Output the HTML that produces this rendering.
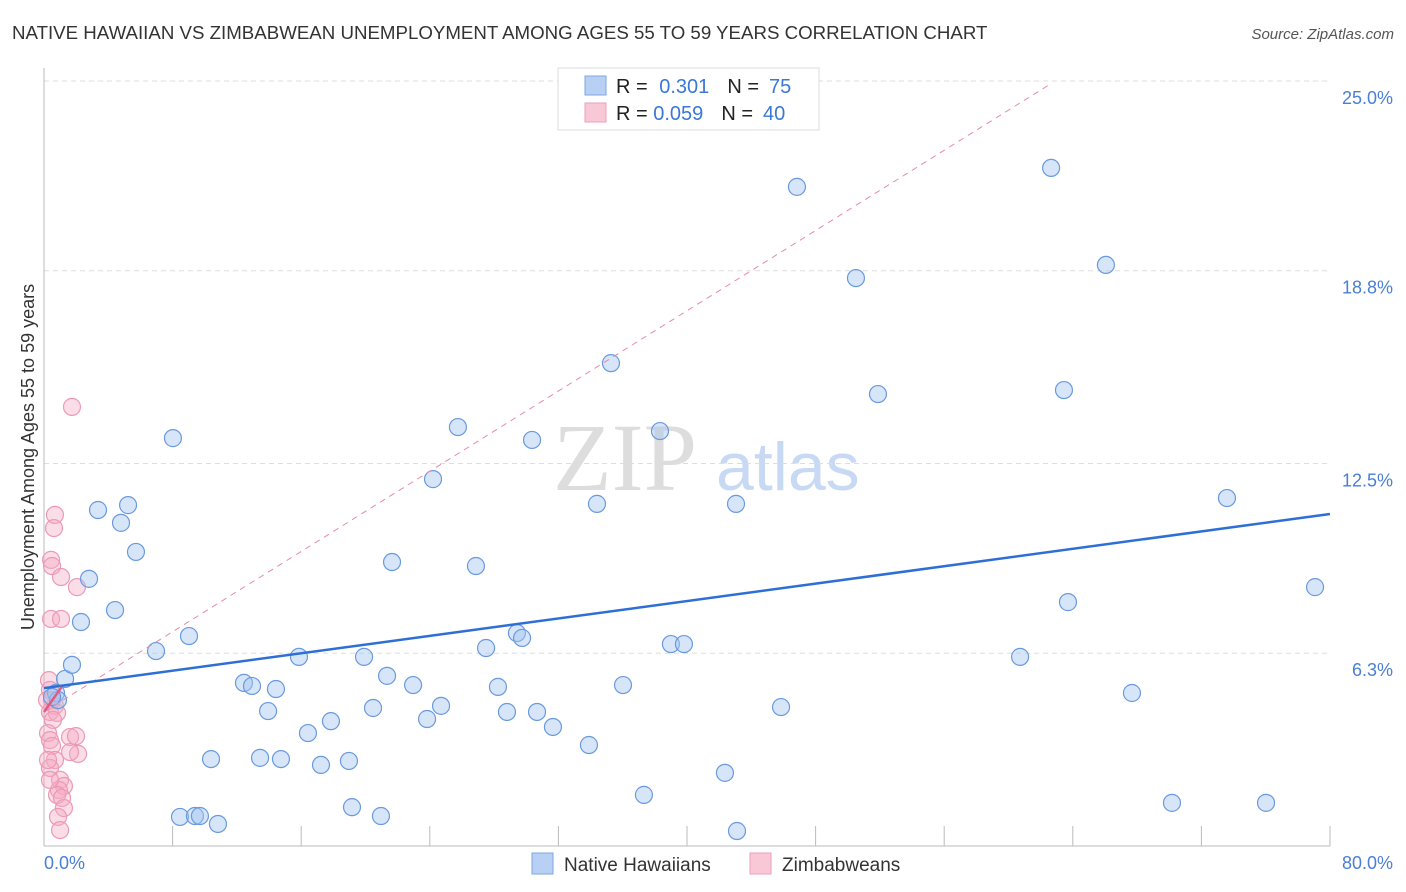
<!DOCTYPE html>
<html><head><meta charset="utf-8"><style>
body{margin:0;background:#fff;font-family:"Liberation Sans",sans-serif;}
svg{display:block}
</style></head><body>
<svg id="c" width="1406" height="892" xmlns="http://www.w3.org/2000/svg">
<text x="12" y="39" font-size="18.7" fill="#333">NATIVE HAWAIIAN VS ZIMBABWEAN UNEMPLOYMENT AMONG AGES 55 TO 59 YEARS CORRELATION CHART</text>
<text x="1394" y="39" font-size="15" fill="#555" font-style="italic" text-anchor="end">Source: ZipAtlas.com</text>
<g>
<text x="553" y="490" font-size="96" fill="#ddd" font-family="Liberation Serif,serif">ZIP</text>
<text x="716" y="490" font-size="68" fill="#c8daf3">atlas</text>
</g>
<g id="grid"></g>
<g id="axes"></g>
<g id="pts"></g>
<g id="trend"></g>
<text transform="translate(34,457) rotate(-90)" font-size="18" fill="#333" text-anchor="middle">Unemployment Among Ages 55 to 59 years</text>
<text x="44" y="869" font-size="18" fill="#4a7fd4">0.0%</text>
<text x="1393" y="869" font-size="18" fill="#4a7fd4" text-anchor="end">80.0%</text>
<g>
<rect x="558" y="68" width="261" height="62" fill="#fff" stroke="#ddd"/>
<rect x="585" y="76" width="21" height="19" fill="#b8d0f4" stroke="#7ea7e0"/>
<rect x="585" y="103" width="21" height="19" fill="#f9c8d6" stroke="#eba0b8"/>
<text x="616" y="93" font-size="20" fill="#222">R = <tspan fill="#3a78d6" dx="6">0.301</tspan><tspan dx="18" fill="#222">N =</tspan><tspan dx="10" fill="#3a78d6">75</tspan></text>
<text x="616" y="120" font-size="20" fill="#222">R = <tspan fill="#3a78d6">0.059</tspan><tspan dx="18" fill="#222">N =</tspan><tspan dx="10" fill="#3a78d6">40</tspan></text>
</g>
<g>
<rect x="532" y="853" width="21" height="21" fill="#b8d0f4" stroke="#7ea7e0"/>
<text x="564" y="871" font-size="19" fill="#333">Native Hawaiians</text>
<rect x="750" y="853" width="21" height="21" fill="#f9c8d6" stroke="#eba0b8"/>
<text x="782" y="871" font-size="19" fill="#333">Zimbabweans</text>
</g>
</svg>
<script>
const blueX=[0.75,0.87,0.50,1.31,1.74,2.30,2.80,3.36,4.79,5.23,5.72,4.42,6.97,8.02,8.46,9.39,9.70,9.02,10.39,10.82,12.44,12.94,13.44,13.94,14.43,14.74,15.86,16.42,17.23,17.85,18.97,19.16,19.91,20.47,20.96,21.34,21.65,22.96,23.83,24.20,24.70,25.75,26.87,27.50,28.24,28.80,29.42,29.74,30.36,30.67,31.66,33.90,34.40,35.27,36.02,37.32,38.32,39.00,39.81,42.36,43.05,43.11,45.85,46.84,50.51,51.88,60.72,62.65,63.45,63.70,66.06,67.68,70.17,73.59,76.02,79.07];
const blueY=[5.0,4.77,4.87,5.46,5.92,7.32,8.73,10.98,10.56,11.14,9.61,7.71,6.37,13.33,0.95,0.98,0.98,6.86,2.84,0.72,5.33,5.23,2.88,4.41,5.13,2.84,6.18,3.69,2.65,4.08,2.78,1.27,6.18,4.51,0.98,5.56,9.28,5.26,4.15,11.99,4.58,13.69,9.15,6.47,5.20,4.38,6.96,6.80,13.27,4.38,3.89,3.30,11.18,15.78,5.26,1.67,13.56,6.60,6.60,2.39,11.18,0.49,4.54,21.54,18.56,14.77,6.18,22.16,14.90,7.97,18.99,5.00,1.41,11.37,1.41,8.46];
const pinkX=[1.74,0.68,0.62,0.44,0.50,1.06,2.05,0.44,1.06,0.31,0.37,0.50,0.68,0.37,0.81,0.56,0.25,0.37,0.50,1.62,1.99,2.12,1.62,0.68,0.37,1.00,1.24,0.93,0.81,1.12,1.24,0.87,1.00,0.37,0.25,0.19];
const pinkY=[14.35,10.82,10.39,9.35,9.15,8.79,8.46,7.42,7.42,5.42,5.10,4.77,4.58,4.38,4.35,4.12,3.69,3.46,3.27,3.56,3.59,3.01,3.07,2.81,2.55,2.16,1.96,1.83,1.67,1.57,1.24,0.95,0.52,2.16,2.81,4.77];
const yTicks=[6.3,12.5,18.8,25.0];
const yTickLabels=["6.3%","12.5%","18.8%","25.0%"];
const xTicks=[8,16,24,32,40,48,56,64,72,80];
const blueTrend=[5.16,10.85];
const pinkTrend=[4.38,5.2];
const pinkDash=[4.38,24.9,62.6];
const NS="http://www.w3.org/2000/svg";
const X=v=>44+v/80*1286, Y=v=>846-v/25*765;
function mk(parent,tag,attrs){const e=document.createElementNS(NS,tag);for(const k in attrs)e.setAttribute(k,attrs[k]);document.getElementById(parent).appendChild(e);return e;}
yTicks.forEach((t,i)=>{
 const g=mk('grid','line',{x1:44,x2:1330,y1:Y(t),y2:Y(t),stroke:'#ddd','stroke-dasharray':'5,4'});
 
 
 const l=mk('grid','text',{x:1393,y:Y(t)+23,'font-size':18,fill:'#4a7fd4','text-anchor':'end'});
 l.textContent=yTickLabels[i];
 
 
});
const ax=mk('axes','line',{x1:44,x2:44,y1:68,y2:846,stroke:'#bbb'});


const bx=mk('axes','line',{x1:44,x2:1330,y1:846,y2:846,stroke:'#bbb'});


xTicks.forEach(t=>{
 const tk=mk('axes','line',{x1:X(t),x2:X(t),y1:826,y2:846,stroke:'#bbb'});
 
 
});
pinkX.forEach((x,i)=>{
 const c=mk('pts','circle',{cx:X(x),cy:Y(pinkY[i]),r:8.5,fill:'rgba(245,170,195,0.4)',stroke:'#ec9ab4','stroke-width':1.2});
 
 
});
blueX.forEach((x,i)=>{
 const c=mk('pts','circle',{cx:X(x),cy:Y(blueY[i]),r:8.5,fill:'rgba(165,198,240,0.45)',stroke:'#6a9ade','stroke-width':1.2});
 
 
});
const pd=mk('trend','line',{x1:X(0),y1:Y(pinkDash[0]),x2:X(pinkDash[2]),y2:Y(pinkDash[1]),stroke:'#e88aa8','stroke-width':1,'stroke-dasharray':'6,5'});


const bt=mk('trend','line',{x1:X(0),y1:Y(blueTrend[0]),x2:X(80),y2:Y(blueTrend[1]),stroke:'#2e6fd6','stroke-width':2.5});


const pt=mk('trend','line',{x1:X(0),y1:Y(pinkTrend[0]),x2:X(1.1),y2:Y(pinkTrend[1]),stroke:'#e05a88','stroke-width':2.5});


</script>
</body></html>
